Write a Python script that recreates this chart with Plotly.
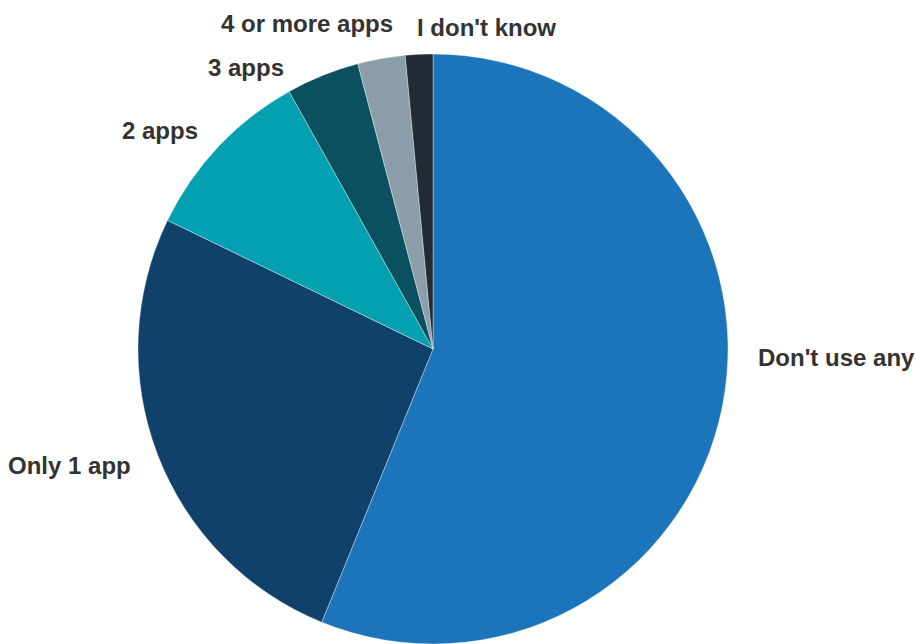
import math
import plotly.graph_objects as go

labels = ["Don't use any", "Only 1 app", "2 apps", "3 apps", "4 or more apps", "I don't know"]
values = [56.1, 26.0, 9.7, 4.0, 2.6, 1.5]
colors = ["#1c75bb", "#10416b", "#03a0b1", "#0a505e", "#8b9ea9", "#222b33"]

W, H = 916, 644
# pie geometry (pixels)
CX, CY, R = 433, 349, 295.0

# label layout: anchor side and small pixel nudges (style only)
label_anchor = ["left", "right", "right", "right", "right", "left"]
label_nudge = [(4, -54), (3, 0), (3, 5), (-25, 20), (19, -6), (-3, 3)]
LABEL_GAP = 30


def clamp(v):
    return min(1.0, max(0.0, v))


fig = go.Figure()
fig.add_trace(go.Pie(
    labels=labels,
    values=values,
    sort=False,
    direction="clockwise",
    rotation=0,
    marker=dict(colors=colors, line=dict(color="rgba(255,255,255,0.6)", width=0.6)),
    textinfo="none",
    hoverinfo="label+percent",
    showlegend=False,
    domain=dict(x=[clamp((CX - R) / W), clamp((CX + R) / W)],
                y=[clamp(1 - (CY + R) / H), clamp(1 - (CY - R) / H)]),
))

total = sum(values)
cum = 0.0
annotations = []
for lab, v, anc, (dx, dy) in zip(labels, values, label_anchor, label_nudge):
    mid = (cum + v / 2) / total * 2 * math.pi
    cum += v
    rl = R + LABEL_GAP
    px = CX + rl * math.sin(mid) + dx
    py = CY - rl * math.cos(mid) + dy
    annotations.append(dict(
        x=px / W, y=1 - py / H, xref="paper", yref="paper",
        text="<b>" + lab + "</b>", showarrow=False, xanchor=anc, yanchor="middle",
        font=dict(family="Liberation Sans, Arial, sans-serif", size=24, color="#333333"),
    ))

fig.update_layout(
    width=W, height=H,
    margin=dict(l=0, r=0, t=0, b=0),
    paper_bgcolor="white",
    plot_bgcolor="white",
    annotations=annotations,
    font=dict(family="Liberation Sans, Arial, sans-serif"),
)

fig.write_html("out.html")
